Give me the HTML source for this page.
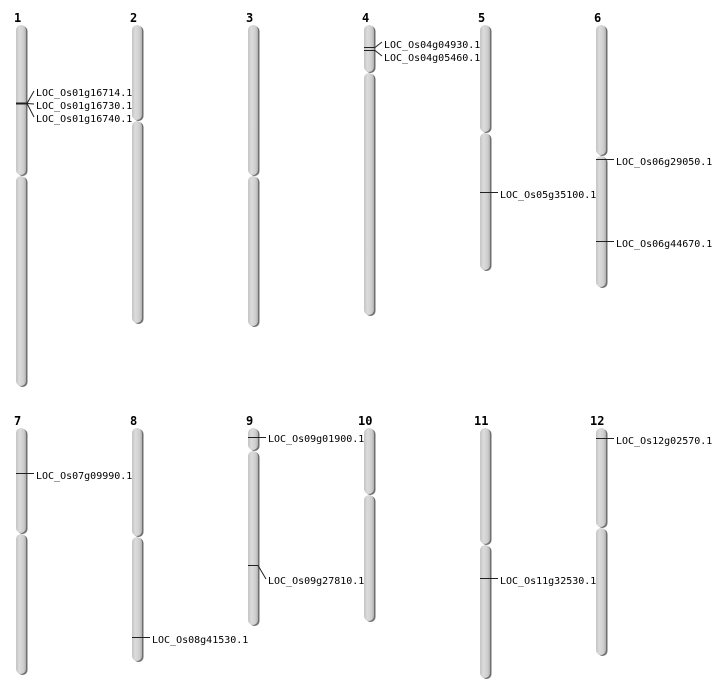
<!DOCTYPE html>
<html><head><meta charset="utf-8"><style>
html,body{margin:0;padding:0;background:#fff;}
svg{display:block;}
text{font-family:"DejaVu Sans Mono","Liberation Mono",monospace;font-size:10px;fill:#000;}
.n{font-family:"DejaVu Sans Mono","Liberation Mono",monospace;font-size:12px;font-weight:bold;}
</style></head><body>
<svg width="712" height="700" viewBox="0 0 712 700" xmlns="http://www.w3.org/2000/svg">
<defs>
<linearGradient id="g" x1="0" x2="1" y1="0" y2="0">
<stop offset="0" stop-color="#c4c4c4"/><stop offset="0.35" stop-color="#dcdcdc"/><stop offset="0.75" stop-color="#cecece"/><stop offset="1" stop-color="#b0b0b0"/>
</linearGradient>
</defs>
<g id="chroms"></g>
<script><![CDATA[
var C=[[16,25,176,386],[132,25,121,323],[248,25,176,326],[364,25,73,315],[480,25,133,270],[596,25,156,287],
[16,428,534,674],[132,428,537,661],[248,428,451,625],[364,428,495,621],[480,428,545,678],[596,428,528,655]];
var ns="http://www.w3.org/2000/svg",g=document.getElementById("chroms");
function seg(x,y1,y2){
 var s=document.createElementNS(ns,"rect");s.setAttribute("x",x+1.5);s.setAttribute("y",y1+1);s.setAttribute("width",10);s.setAttribute("height",y2-y1);s.setAttribute("rx",5);s.setAttribute("fill","#6e6e6e");g.appendChild(s);
 var r=document.createElementNS(ns,"rect");r.setAttribute("x",x);r.setAttribute("y",y1);r.setAttribute("width",10);r.setAttribute("height",y2-y1);r.setAttribute("rx",5);r.setAttribute("fill","url(#g)");g.appendChild(r);}
C.forEach(function(c){seg(c[0],c[1],c[2]-1);seg(c[0],c[2],c[3]);});
]]></script>
<g stroke="#222" stroke-width="1" fill="none">
<line x1="16" y1="103.5" x2="27" y2="103.5" stroke-width="2"/>
<polyline points="27,103.5 34,91"/><line x1="27" y1="103.5" x2="34" y2="104"/><polyline points="27,103.5 34,117"/>
<line x1="364" y1="47.5" x2="375" y2="47.5"/><line x1="364" y1="50.5" x2="375" y2="50.5"/>
<polyline points="375,47.5 382,42"/><polyline points="375,50.5 382,56"/>
<line x1="480" y1="192.5" x2="498" y2="192.5"/>
<line x1="596" y1="159.5" x2="614" y2="159.5"/>
<line x1="596" y1="241.5" x2="614" y2="241.5"/>
<line x1="16" y1="473.5" x2="34" y2="473.5"/>
<line x1="132" y1="637.5" x2="150" y2="637.5"/>
<line x1="248" y1="437.5" x2="266" y2="437.5"/>
<polyline points="248,565.5 258,565.5 266,579"/>
<line x1="480" y1="578.5" x2="498" y2="578.5"/>
<line x1="596" y1="438.5" x2="614" y2="438.5"/>
</g>
<text class="n" x="14" y="22">1</text><text class="n" x="130" y="22">2</text><text class="n" x="246" y="22">3</text>
<text class="n" x="362" y="22">4</text><text class="n" x="478" y="22">5</text><text class="n" x="594" y="22">6</text>
<text class="n" x="14" y="425">7</text><text class="n" x="130" y="425">8</text><text class="n" x="246" y="425">9</text>
<text class="n" x="358" y="425">10</text><text class="n" x="474" y="425">11</text><text class="n" x="590" y="425">12</text>
<text x="36" y="96">LOC_Os01g16714.1</text>
<text x="36" y="109">LOC_Os01g16730.1</text>
<text x="36" y="122">LOC_Os01g16740.1</text>
<text x="384" y="48">LOC_Os04g04930.1</text>
<text x="384" y="61">LOC_Os04g05460.1</text>
<text x="500" y="198">LOC_Os05g35100.1</text>
<text x="616" y="165">LOC_Os06g29050.1</text>
<text x="616" y="247">LOC_Os06g44670.1</text>
<text x="36" y="479">LOC_Os07g09990.1</text>
<text x="152" y="643">LOC_Os08g41530.1</text>
<text x="268" y="442">LOC_Os09g01900.1</text>
<text x="268" y="584">LOC_Os09g27810.1</text>
<text x="500" y="584">LOC_Os11g32530.1</text>
<text x="616" y="444">LOC_Os12g02570.1</text>
</svg>
</body></html>
